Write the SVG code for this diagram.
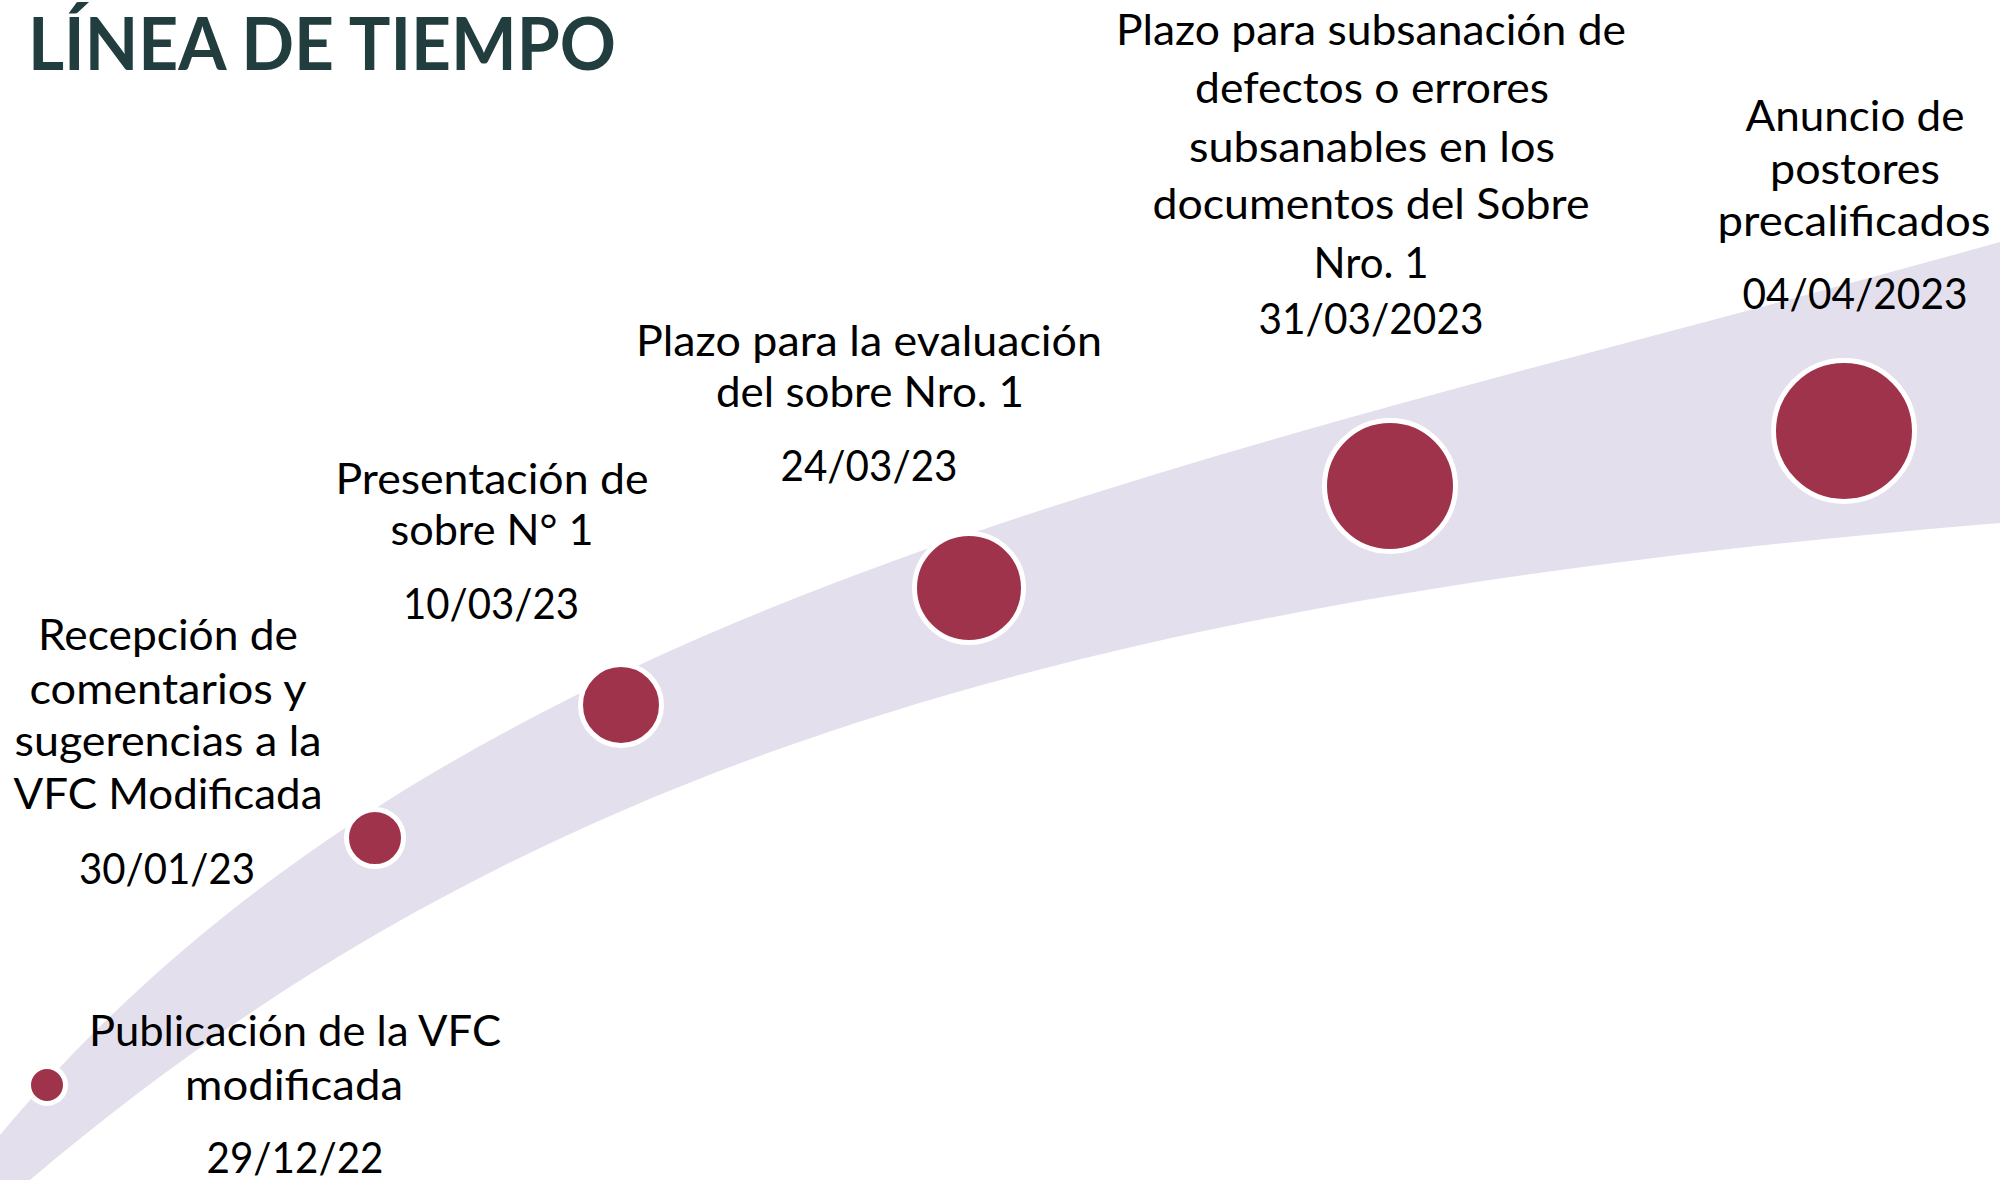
<svg xmlns="http://www.w3.org/2000/svg" width="2000" height="1180" viewBox="0 0 2000 1180">
<style>
.t{font-family:Lato,"Open Sans","Liberation Sans",sans-serif;font-size:42px;fill:#000;text-anchor:middle}
.title{font-family:Lato,"Open Sans","Liberation Sans",sans-serif;font-weight:bold;font-size:72px;fill:#213D3D}
.dot{fill:#A0334C;stroke:#fff;stroke-width:5}
</style>
<rect width="2000" height="1180" fill="#fff"/>
<text class="title" x="28" y="70" textLength="588" lengthAdjust="spacingAndGlyphs">LÍNEA DE TIEMPO</text>
<g id="connectors">
<path id="band" d="M0,1135 C450,595 1200,466 2000,242 L2000,523 C1100,597 530,755 30,1180 L0,1180 Z" fill="#E4DFEC"/>
</g>
<g id="n1">
<circle class="dot" cx="47" cy="1085" r="18.5"/>
<text class="t" x="295" y="1046" textLength="412" lengthAdjust="spacingAndGlyphs">Publicación de la VFC</text>
<text class="t" x="294" y="1100" textLength="218" lengthAdjust="spacingAndGlyphs">modificada</text>
<text class="t" x="295" y="1173" textLength="177" lengthAdjust="spacingAndGlyphs">29/12/22</text>
</g>
<g id="n2">
<circle class="dot" cx="375" cy="838" r="28.5"/>
<text class="t" x="168" y="650" textLength="260" lengthAdjust="spacingAndGlyphs">Recepción de</text>
<text class="t" x="168" y="704" textLength="277" lengthAdjust="spacingAndGlyphs">comentarios y</text>
<text class="t" x="168" y="756" textLength="307" lengthAdjust="spacingAndGlyphs">sugerencias a la</text>
<text class="t" x="168" y="809" textLength="309" lengthAdjust="spacingAndGlyphs">VFC Modificada</text>
<text class="t" x="167" y="884" textLength="176" lengthAdjust="spacingAndGlyphs">30/01/23</text>
</g>
<g id="n3">
<circle class="dot" cx="621" cy="705" r="40.5"/>
<text class="t" x="492" y="494" textLength="313" lengthAdjust="spacingAndGlyphs">Presentación de</text>
<text class="t" x="492" y="545" textLength="203" lengthAdjust="spacingAndGlyphs">sobre N° 1</text>
<text class="t" x="491" y="619" textLength="176" lengthAdjust="spacingAndGlyphs">10/03/23</text>
</g>
<g id="n4">
<circle class="dot" cx="969" cy="588" r="54.5"/>
<text class="t" x="869" y="356" textLength="466" lengthAdjust="spacingAndGlyphs">Plazo para la evaluación</text>
<text class="t" x="870" y="407" textLength="308" lengthAdjust="spacingAndGlyphs">del sobre Nro. 1</text>
<text class="t" x="869" y="481" textLength="177" lengthAdjust="spacingAndGlyphs">24/03/23</text>
</g>
<g id="n5">
<circle class="dot" cx="1390" cy="486" r="65.5"/>
<text class="t" x="1371" y="45" textLength="510" lengthAdjust="spacingAndGlyphs">Plazo para subsanación de</text>
<text class="t" x="1372" y="103" textLength="354" lengthAdjust="spacingAndGlyphs">defectos o errores</text>
<text class="t" x="1372" y="162" textLength="366" lengthAdjust="spacingAndGlyphs">subsanables en los</text>
<text class="t" x="1371" y="219" textLength="437" lengthAdjust="spacingAndGlyphs">documentos del Sobre</text>
<text class="t" x="1371" y="278" textLength="115" lengthAdjust="spacingAndGlyphs">Nro. 1</text>
<text class="t" x="1371" y="334" textLength="225" lengthAdjust="spacingAndGlyphs">31/03/2023</text>
</g>
<g id="n6">
<circle class="dot" cx="1844" cy="431" r="70.5"/>
<text class="t" x="1855" y="131" textLength="219" lengthAdjust="spacingAndGlyphs">Anuncio de</text>
<text class="t" x="1855" y="184" textLength="170" lengthAdjust="spacingAndGlyphs">postores</text>
<text class="t" x="1854" y="236" textLength="273" lengthAdjust="spacingAndGlyphs">precalificados</text>
<text class="t" x="1855" y="309" textLength="225" lengthAdjust="spacingAndGlyphs">04/04/2023</text>
</g>
</svg>
